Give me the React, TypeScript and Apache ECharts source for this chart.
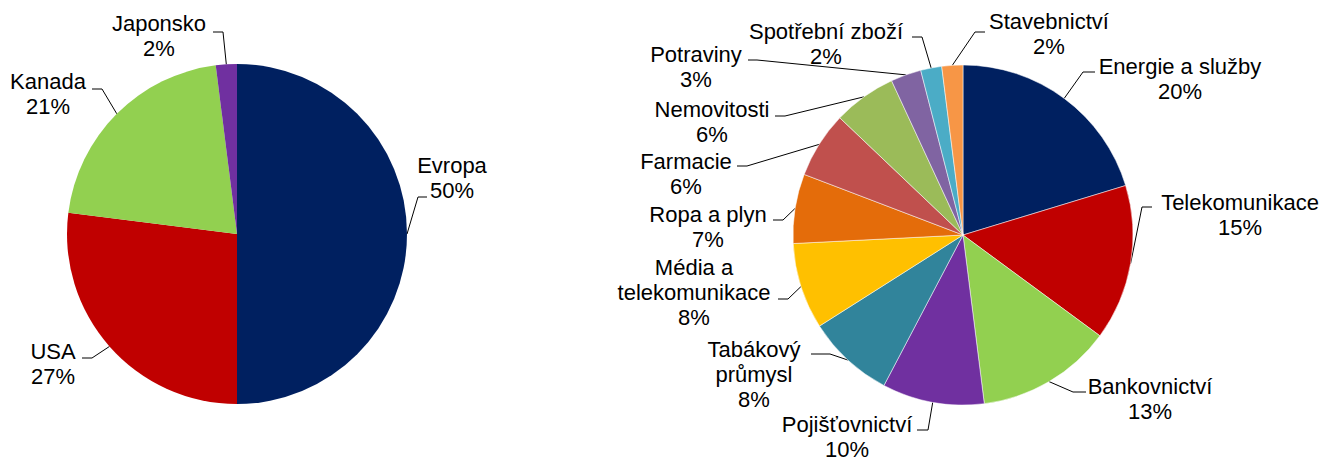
import { useEffect, useRef } from 'react';
import * as echarts from 'echarts';

// ---- Data ----
const regionNames = ['Evropa', 'USA', 'Kanada', 'Japonsko'];
const regionValues = [50, 27, 21, 2];

const sectorNames = [
  'Energie a služby',
  'Telekomunikace',
  'Bankovnictví',
  'Pojišťovnictví',
  'Tabákový\nprůmysl',
  'Média a\ntelekomunikace',
  'Ropa a plyn',
  'Farmacie',
  'Nemovitosti',
  'Potraviny',
  'Spotřební zboží',
  'Stavebnictví',
];
const sectorValues = [20.3, 14.8, 12.9, 9.7, 8.3, 8.2, 6.6, 6.3, 6.0, 2.9, 2.0, 2.0];

// ---- Styles ----
const regionColors = ['#002060', '#C00000', '#92D050', '#7030A0'];
const sectorColors = [
  '#002060', '#C00000', '#92D050', '#7030A0', '#31849B', '#FFC000',
  '#E46C0A', '#C0504D', '#9BBB59', '#8064A2', '#4BACC6', '#F79646',
];

const W = 1322;
const H = 458;
const RADIUS = 170;
const CENTERS: [number, number][] = [
  [237, 234],
  [963, 235],
];
const FONT_SIZE = 22;
const LINE_H = 25;

// Label placement (Excel-style manual positions):
// [textCenterX, firstLineCenterY, kneeX, endX, leaderY]
const regionLabelPos = [
  [452, 165, 418, 427, 197],
  [53, 351, 92, 82, 358],
  [48, 81.5, 102, 92, 89],
  [159, 23, 223, 213, 32],
];
const sectorLabelPos = [
  [1180, 66, 1083, 1095, 72],
  [1240, 202.5, 1142, 1152, 207],
  [1150, 386, 1073, 1086, 392],
  [847, 424, 928, 917, 430],
  [754, 349, 830, 811, 354],
  [694, 267, 788, 778, 299],
  [708, 214, 783, 773, 220],
  [686, 161.5, 747, 737, 166],
  [712, 109, 785, 775, 116],
  [696, 54, 757, 748, 60],
  [826, 31, 922, 912, 37],
  [1049, 21.5, 975, 985, 32],
];

const allValues = [regionValues, sectorValues];
const allLabelPos = [regionLabelPos, sectorLabelPos];

function edgePoint(seriesIndex: number, dataIndex: number): [number, number] {
  const vals = allValues[seriesIndex];
  const total = vals.reduce((a, b) => a + b, 0);
  let cum = 0;
  for (let k = 0; k < dataIndex; k++) cum += vals[k];
  const mid = (cum + vals[dataIndex] / 2) / total;
  const theta = mid * Math.PI * 2;
  const [cx, cy] = CENTERS[seriesIndex];
  return [cx + RADIUS * Math.sin(theta), cy - RADIUS * Math.cos(theta)];
}

function makeSeries(idx: number, names: string[], values: number[], colors: string[], border: number) {
  return {
    type: 'pie',
    center: CENTERS[idx],
    radius: RADIUS,
    startAngle: 90,
    clockwise: true,
    avoidLabelOverlap: false,
    emphasis: { disabled: true },
    itemStyle: { borderColor: '#ffffff', borderWidth: border },
    label: {
      show: true,
      position: 'outside',
      color: '#000000',
      fontFamily: '"Liberation Sans", Arial, sans-serif',
      fontSize: FONT_SIZE,
      lineHeight: LINE_H,
      align: 'center',
      formatter: (p: any) => `${p.name}\n${Math.round(p.percent)}%`,
    },
    labelLine: {
      show: true,
      smooth: false,
      lineStyle: { color: '#000000', width: 1 },
    },
    labelLayout: (p: any) => {
      const s = p.seriesIndex;
      const i = p.dataIndex;
      const a = allLabelPos[s][i];
      return {
        x: a[0],
        y: a[1] - LINE_H / 2,
        align: 'center',
        verticalAlign: 'top',
        hideOverlap: false,
        moveOverlap: null,
        labelLinePoints: [edgePoint(s, i), [a[2], a[4]], [a[3], a[4]]],
      };
    },
    data: names.map((n, i) => ({
      name: n,
      value: values[i],
      itemStyle: { color: colors[i] },
    })),
  };
}

export default function App() {
  const ref = useRef<HTMLDivElement>(null);
  useEffect(() => {
    document.body.style.margin = '0';
    if (!ref.current) return;
    const chart = echarts.init(ref.current, null, { renderer: 'svg' });
    chart.setOption({
      animation: false,
      backgroundColor: '#ffffff',
      series: [
        makeSeries(0, regionNames, regionValues, regionColors, 0),
        makeSeries(1, sectorNames, sectorValues, sectorColors, 0.5),
      ],
    });
    return () => chart.dispose();
  }, []);
  return <div ref={ref} style={{ width: W, height: H }} />;
}
